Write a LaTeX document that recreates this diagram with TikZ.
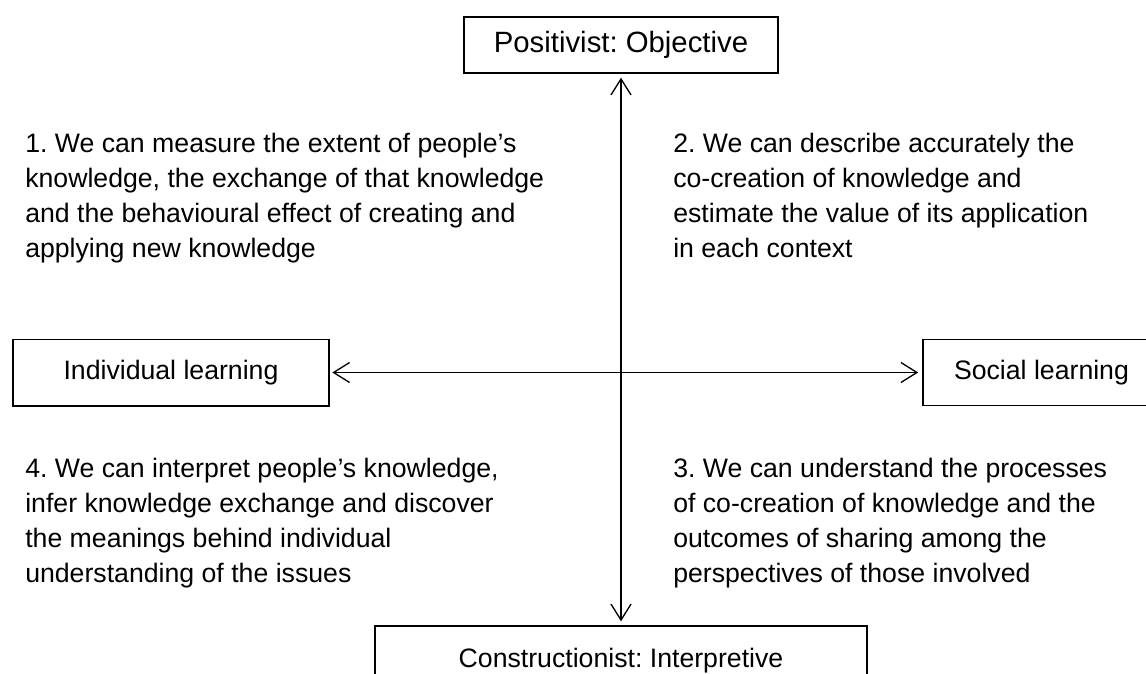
\documentclass[tikz,border=0pt]{standalone}
\usepackage{fontspec}
\setmainfont{Liberation Sans}
\usetikzlibrary{arrows.meta}

\tikzset{
	box/.style={draw=black, line width=1pt, inner sep=0pt, align=center},
	quad/.style={anchor=base west, inner sep=0pt, align=left},
	axis/.style={line width=1pt, {Straight Barb[length=12pt,width=15pt]}-{Straight Barb[length=12pt,width=15pt]}}
}

\begin{document}
\frenchspacing
\fontsize{20}{26.25}\selectfont
\begin{tikzpicture}[x=0.75pt,y=-0.75pt]

	%Frame
	\useasboundingbox (0,0) rectangle (1146,674);

	%Boxes
	\node[box, minimum width=235.5pt, minimum height=42pt, font=\fontsize{22}{26}\selectfont] (pos) at (621,45) {Positivist: Objective};
	\node[box, minimum width=369pt, minimum height=52.5pt] (con) at (621,661) {Constructionist: Interpretive};
	\node[box, minimum width=237pt, minimum height=50pt] (ind) at (171,372.5) {Individual learning};
	\node[box, minimum width=178pt, minimum height=49.5pt] (soc) at (1041.5,372.5) {Social learning};

	%Axes
	\draw[axis, shorten <=3pt, shorten >=3pt] (pos) -- (con);
	\draw[axis, shorten <=2pt, shorten >=3pt] (ind) -- (soc);

	%Quadrants (placed at the baseline of the last line)
	%1
	\node[quad] (q1) at (25,257) {1. We can measure the extent of people’s\\knowledge, the exchange of that knowledge\\and the behavioural effect of creating and\\applying new knowledge};

	%2
	\node[quad] (q2) at (673,257) {2. We can describe accurately the\\co-creation of knowledge and\\estimate the value of its application\\in each context};

	%3
	\node[quad] (q3) at (673,582) {3. We can understand the processes\\of co-creation of knowledge and the\\outcomes of sharing among the\\perspectives of those involved};

	%4
	\node[quad] (q4) at (25,582) {4. We can interpret people’s knowledge,\\infer knowledge exchange and discover\\the meanings behind individual\\understanding of the issues};

\end{tikzpicture}
\end{document}
